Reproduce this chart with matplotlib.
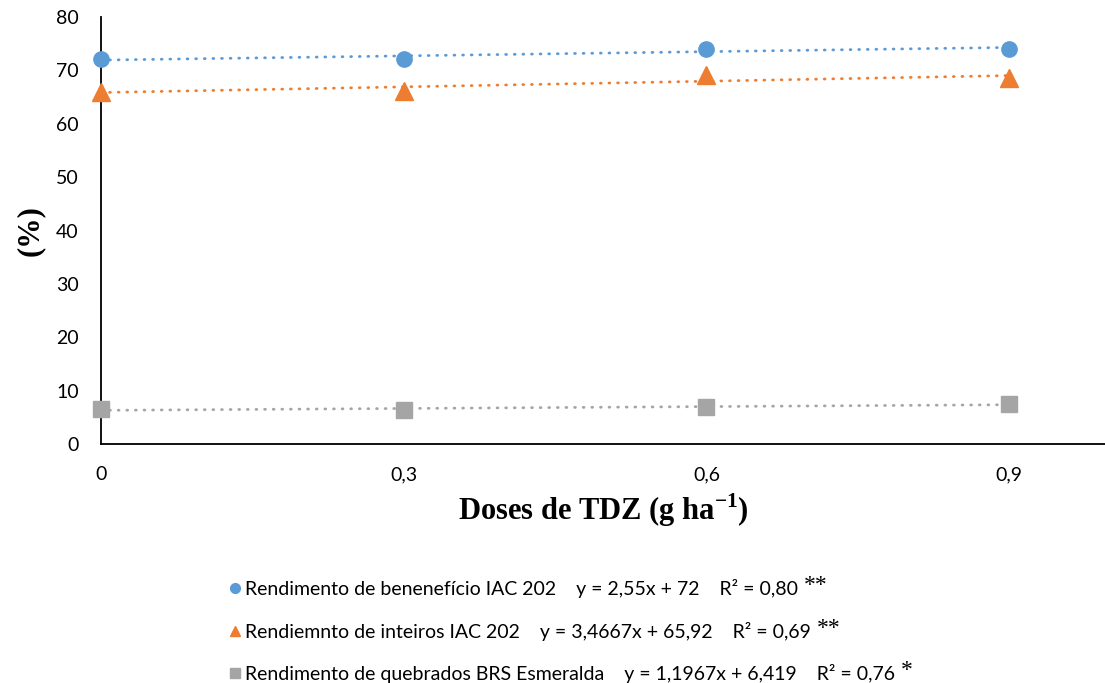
import matplotlib
matplotlib.use('Agg')
import matplotlib.pyplot as plt
from matplotlib.lines import Line2D
import numpy as np

plt.rcParams['font.family'] = ['Lato', 'DejaVu Sans']
plt.rcParams['mathtext.fontset'] = 'custom'
plt.rcParams['mathtext.rm'] = 'Liberation Serif'
plt.rcParams['mathtext.bf'] = 'Liberation Serif:bold'

# doses de TDZ (g/ha)
doses = [0, 0.3, 0.6, 0.9]
dose_labels = ['0', '0,3', '0,6', '0,9']

beneficio = [72.1, 72.2, 74.1, 74.1]
inteiros = [66.0, 66.1, 69.2, 68.5]
quebrados = [6.5, 6.4, 6.9, 7.5]

series_names = [
    'Rendimento de benenefício IAC 202    y = 2,55x + 72    R² = 0,80',
    'Rendiemnto de inteiros IAC 202    y = 3,4667x + 65,92    R² = 0,69',
    'Rendimento de quebrados BRS Esmeralda    y = 1,1967x + 6,419    R² = 0,76',
]
signif = ['**', '**', '*']

colors = ['#5B9BD5', '#ED7D31', '#A5A5A5']
markers = ['o', '^', 's']
msizes = [11, 13, 12]

fig = plt.figure(figsize=(11.05, 6.83), dpi=100)
ax = fig.add_axes([0.0914, 0.35, 0.9086, 0.625])

x = np.array(doses)
for vals, c, m, ms in zip([beneficio, inteiros, quebrados], colors, markers, msizes):
    ax.plot(x, vals, linestyle='none', marker=m, color=c, markersize=ms, zorder=4, clip_on=False)
    # linha de tendencia linear
    coef = np.polyfit(x, vals, 1)
    ax.plot(x, np.polyval(coef, x), color=c, linewidth=2.0,
            linestyle=(0, (0.3, 2.8)), dash_capstyle='round', zorder=2)

ax.set_xlim(0, 0.995)
ax.set_ylim(0, 80)
ax.set_xticks(doses)
ax.set_xticklabels(dose_labels)
ax.set_yticks(range(0, 81, 10))
ax.tick_params(length=0, labelsize=14)
ax.tick_params(axis='x', pad=16)
ax.tick_params(axis='y', pad=16)
for s in ['top', 'right']:
    ax.spines[s].set_visible(False)
for s in ['left', 'bottom']:
    ax.spines[s].set_linewidth(1.3)

ax.set_ylabel('(%)', fontsize=22, fontweight='bold', family='Liberation Serif', labelpad=8)
ax.set_xlabel('Doses de TDZ (g ha$^{\\mathbf{-1}}$)', fontsize=22, fontweight='bold',
              family='Liberation Serif', labelpad=6)

handles = [Line2D([], [], linestyle='none', marker=m, color=c, markersize=7)
           for m, c in zip(markers, colors)]
leg = fig.legend(handles, series_names, loc='upper left', bbox_to_anchor=(0.2057, 0.152),
                 frameon=False, fontsize=14, handletextpad=0.1, labelspacing=1.2,
                 handlelength=0.8, borderpad=0, borderaxespad=0)

fig.canvas.draw()
inv = fig.transFigure.inverted()
for t, s in zip(leg.get_texts(), signif):
    bb = t.get_window_extent()
    x0, y1 = inv.transform((bb.x1 + 6, bb.y1 + 4))
    fig.text(x0, y1, s, fontsize=17, family='Liberation Serif', va='top', ha='left')

fig.savefig('out.png', dpi=100)
